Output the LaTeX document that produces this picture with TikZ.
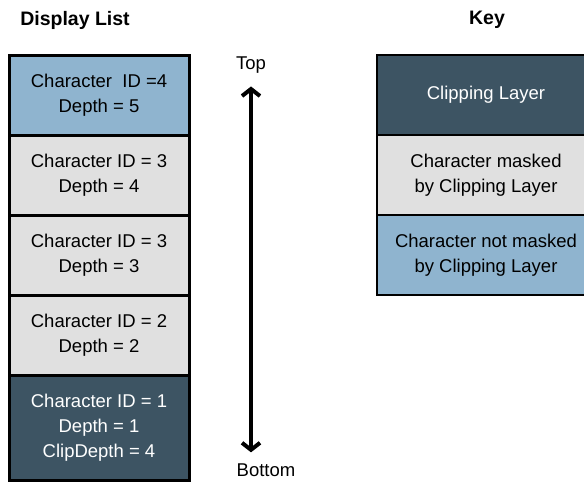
\documentclass[tikz,border=0pt]{standalone}
\usepackage{fontspec}
\setmainfont{Liberation Sans}
\usetikzlibrary{positioning,arrows.meta}

\definecolor{clipSlate}{RGB}{61,84,99}
\definecolor{maskedGray}{RGB}{224,224,224}
\definecolor{freeBlue}{RGB}{143,180,207}

\begin{document}
\begin{tikzpicture}[x=1pt, y=-1pt,
        layer/.style={
            rectangle, draw = black, line width = 3pt, outer sep = 0pt, inner sep = 0pt,
            minimum width = 180pt, minimum height = 80pt, align = center,
            font = \fontsize{18.5}{25}\selectfont
        },
        clipping/.style={layer, fill = clipSlate, text = white},
        masked/.style={layer, fill = maskedGray, text = black},
        unmasked/.style={layer, fill = freeBlue, text = black},
        keyEntry/.style={line width = 2pt, minimum width = 218pt},
        heading/.style={font = \fontsize{19.5}{22}\selectfont\bfseries, inner sep = 0pt},
        label/.style={font = \fontsize{18.5}{22}\selectfont, inner sep = 0pt},
    ]
    \useasboundingbox (0,0) rectangle (584,483);
    \clip (0,0) rectangle (584,483);

    \node (displayTitle) [heading] at (75,20) {Display List};
    \node (keyTitle) [heading] at (487,20) {Key};

    % display list, topmost first
    \node (depthFive) [unmasked] at (99,95) {Character\ \ ID =4 \\ Depth = 5};
    \node (depthFour) [masked, below=0pt of depthFive] {Character ID = 3 \\ Depth = 4};
    \node (depthThree) [masked, below=0pt of depthFour] {Character ID = 3 \\ Depth = 3};
    \node (depthTwo) [masked, below=0pt of depthThree] {Character ID = 2 \\ Depth = 2};
    \node (depthOne) [clipping, minimum height = 105pt, below=0pt of depthTwo] {Character ID = 1 \\ Depth = 1 \\ ClipDepth = 4};

    % stacking order
    \node (top) [label] at (251,65) {Top};
    \node (bottom) [label] at (266,470) {Bottom};
    \draw[{Straight Barb[length=7pt,width=18pt]}-{Straight Barb[length=7pt,width=18pt]}, line width = 4pt, shorten <= 11pt, shorten >= 13pt]
        (bottom.north -| top) -- (top);

    % key
    \node (keyClip) [clipping, keyEntry] at (486,95) {Clipping Layer};
    \node (keyMasked) [masked, keyEntry, below=0pt of keyClip] {Character masked \\ by Clipping Layer};
    \node (keyUnmasked) [unmasked, keyEntry, below=0pt of keyMasked] {Character not masked \\ by Clipping Layer};

\end{tikzpicture}
\end{document}
